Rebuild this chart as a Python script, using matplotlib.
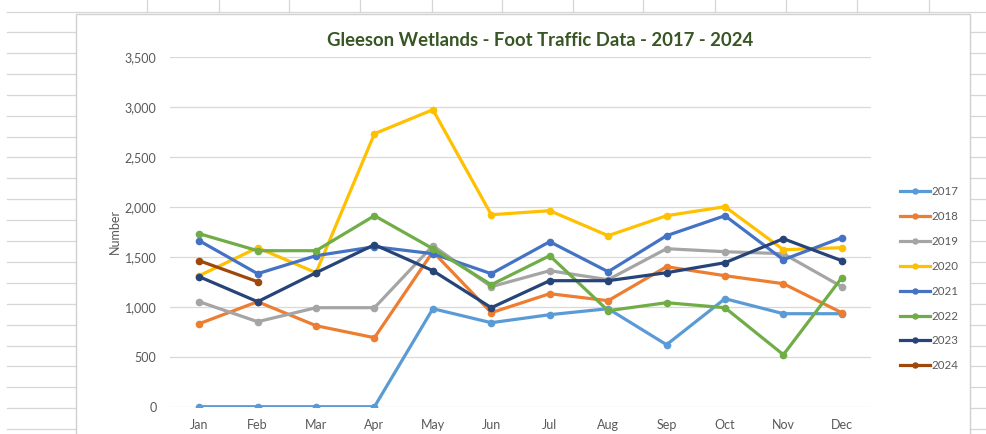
import matplotlib
matplotlib.use("Agg")
import matplotlib.pyplot as plt
from matplotlib.lines import Line2D
from matplotlib.patches import Rectangle
import numpy as np

plt.rcParams['font.family'] = ['Lato', 'DejaVu Sans']

months = ["Jan", "Feb", "Mar", "Apr", "May", "Jun",
          "Jul", "Aug", "Sep", "Oct", "Nov", "Dec"]

y2017 = [0, 0, 0, 0, 980, 840, 920, 980, 620, 1080, 930, 930]
y2018 = [830, 1050, 810, 690, 1550, 940, 1130, 1060, 1400, 1310, 1230, 940]
y2019 = [1050, 850, 990, 990, 1610, 1200, 1360, 1270, 1580, 1550, 1530, 1200]
y2020 = [1310, 1590, 1340, 2730, 2970, 1920, 1960, 1710, 1910, 2000, 1570, 1590]
y2021 = [1660, 1330, 1510, 1600, 1530, 1330, 1650, 1350, 1710, 1910, 1470, 1690]
y2022 = [1730, 1560, 1560, 1910, 1580, 1220, 1510, 960, 1040, 990, 520, 1290]
y2023 = [1300, 1050, 1340, 1620, 1360, 990, 1260, 1260, 1340, 1440, 1680, 1460]
y2024 = [1460, 1250]

series = [
    ("2017", y2017, "#5B9BD5"),
    ("2018", y2018, "#ED7D31"),
    ("2019", y2019, "#A5A5A5"),
    ("2020", y2020, "#FFC000"),
    ("2021", y2021, "#4472C4"),
    ("2022", y2022, "#70AD47"),
    ("2023", y2023, "#264478"),
    ("2024", y2024, "#9E480E"),
]

W, H = 986, 434
fig = plt.figure(figsize=(W / 100, H / 100), dpi=100)
fig.patch.set_facecolor("white")


def px_line(x0, y0, x1, y1, color="#d4d4d4", lw=0.9):
    fig.add_artist(Line2D([x0 / W, x1 / W], [1 - y0 / H, 1 - y1 / H],
                          transform=fig.transFigure, color=color, lw=lw,
                          zorder=-10))


# spreadsheet cells around the chart object
grid_col = "#d6d6d6"
px_line(7, 11.5, W, 11.5, grid_col)
for xc in [147, 219, 289, 360, 432, 502, 573, 643, 715, 786, 857, 929]:
    px_line(xc, 0, xc, 11.5, grid_col)
for yr in np.arange(32, H, 20.9):
    px_line(7, yr, 76, yr, grid_col)
    px_line(970, yr, W, yr, grid_col)

# chart area
fig.add_artist(Rectangle((76 / W, -0.01), (970 - 76) / W, 1.01 - 14 / H,
                         transform=fig.transFigure, facecolor="white",
                         edgecolor="#d0d0d0", lw=1.0, zorder=-5))

ax = fig.add_axes([170 / W, (H - 406.7) / H, 701 / W, 350 / H])
ax.set_facecolor("none")
x = np.arange(len(months))
for name, vals, col in series:
    ax.plot(x[:len(vals)], vals, color=col, lw=2.3, marker="o", ms=4.5,
            label=name, solid_joinstyle="round", zorder=3)

ax.set_xlim(-0.5, len(months) - 0.5)
ax.set_ylim(0, 3500)
ax.set_yticks(np.arange(0, 3501, 500))
ax.set_yticklabels([f"{v:,}" for v in range(0, 3501, 500)])
ax.set_xticks(x)
ax.set_xticklabels(months)
ax.grid(axis="y", color="#d9d9d9", lw=0.9)
ax.set_axisbelow(True)
for s in ax.spines.values():
    s.set_visible(False)
ax.tick_params(axis="both", length=0, colors="#595959", labelsize=9)
ax.tick_params(axis="y", pad=9.8)
ax.tick_params(axis="x", pad=8.5)
ax.set_ylabel("Number", color="#595959", fontsize=9, labelpad=3)

fig.text(540 / W, 1 - 40 / H, "Gleeson Wetlands - Foot Traffic Data - 2017 - 2024",
         ha="center", va="center", fontsize=13.3, fontweight="bold",
         color="#375623")

leg = ax.legend(loc="upper left", bbox_to_anchor=(890 / W, 1 - 176 / H),
                bbox_transform=fig.transFigure, frameon=False,
                fontsize=8.3, labelcolor="#595959", handlelength=2.6,
                handletextpad=0.1, labelspacing=1.2, markerscale=0.8)

fig.savefig("out.png", dpi=100)
